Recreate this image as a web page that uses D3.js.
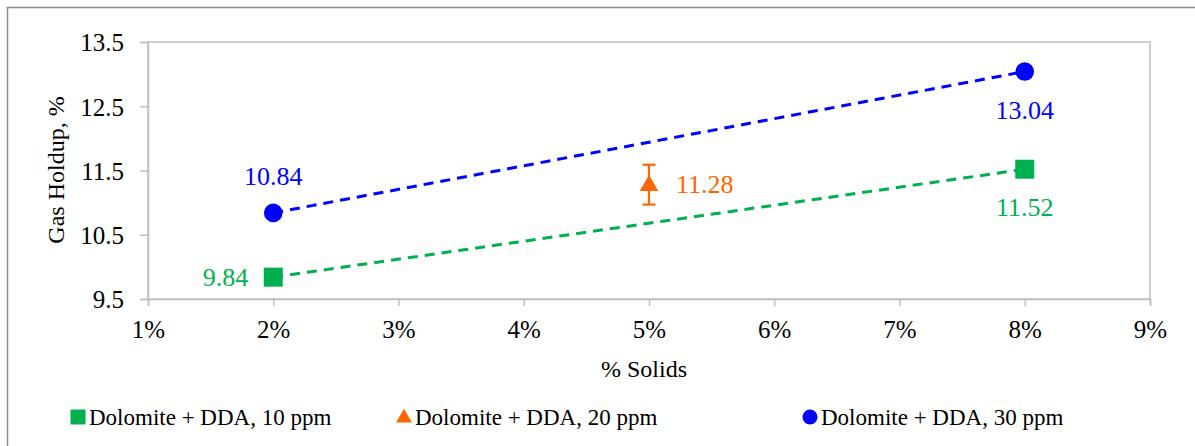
<!DOCTYPE html>
<html><head><meta charset="utf-8">
<script src="https://cdn.jsdelivr.net/npm/d3@7"></script>
<style>
body{margin:0;background:#fff;}
text{font-family:"Liberation Serif","Times New Roman",serif;}
</style></head>
<body><svg id="c" width="1195" height="446"></svg>
<script>
const xTicks = [0.01,0.02,0.03,0.04,0.05,0.06,0.07,0.08,0.09];
const yTicks = [9.5,10.5,11.5,12.5,13.5];
const solids10 = [0.02,0.08];
const holdup10 = [9.84,11.52];
const solids20 = [0.05];
const holdup20 = [11.28];
const err20 = [0.31];
const solids30 = [0.02,0.08];
const holdup30 = [10.84,13.04];
const seriesNames = ["Dolomite + DDA, 10 ppm","Dolomite + DDA, 20 ppm","Dolomite + DDA, 30 ppm"];
const colors = ["#00B050","#FF6600","#0000FF"];

const svg = d3.select("#c");
const L=148,R=1150,T=42,B=299;
const x = d3.scaleLinear().domain([0.01,0.09]).range([L,R]);
const y = d3.scaleLinear().domain([9.5,13.5]).range([B,T]);

// outer frame
svg.append("path").attr("d","M7.5,446 L7.5,7.5 L1195,7.5").attr("fill","none").attr("stroke","#8c8c8c").attr("stroke-width",1.5);
// plot border
svg.append("rect").attr("x",L).attr("y",T).attr("width",R-L).attr("height",B-T)
  .attr("fill","none").attr("stroke","#c0c0c0").attr("stroke-width",1.5);

const fmtP = d3.format(".0%");
const xa = svg.append("g").attr("transform",`translate(0,${B})`)
  .call(d3.axisBottom(x).tickValues(xTicks).tickFormat(fmtP).tickSize(7).tickPadding(14));
const ya = svg.append("g").attr("transform",`translate(${L},0)`)
  .call(d3.axisLeft(y).tickValues(yTicks).tickFormat(d3.format(".1f")).tickSize(8).tickPadding(16));
[xa,ya].forEach(a=>{
  a.select(".domain").attr("stroke","#c0c0c0").attr("stroke-width",1.5);
  a.selectAll(".tick line").attr("stroke","#c0c0c0").attr("stroke-width",1.5);
  a.selectAll(".tick text").attr("font-size",25).attr("fill","#000")
   .attr("font-family","Liberation Serif, Times New Roman, serif");
});
ya.selectAll(".tick text").attr("dy","0.35em");
xa.selectAll(".tick text").attr("dy","0.71em");

// axis titles
svg.append("text").attr("x",644).attr("y",377).attr("text-anchor","middle").attr("font-size",24).text("% Solids");
svg.append("text").attr("transform","translate(64,170) rotate(-90)").attr("text-anchor","middle").attr("font-size",24).text("Gas Holdup, %");

// lines
const line = d3.line().x(d=>x(d[0])).y(d=>y(d[1]));
svg.append("path").datum(d3.zip(solids10,holdup10)).attr("d",line).attr("fill","none")
  .attr("stroke",colors[0]).attr("stroke-width",3).attr("stroke-dasharray","10,7");
svg.append("path").datum(d3.zip(solids30,holdup30)).attr("d",line).attr("fill","none")
  .attr("stroke",colors[2]).attr("stroke-width",3).attr("stroke-dasharray","10,7");

// error bars
solids20.forEach((s,i)=>{
  const cx=x(s), y1=y(holdup20[i]-err20[i]), y2=y(holdup20[i]+err20[i]);
  const g=svg.append("g").attr("stroke",colors[1]).attr("stroke-width",2.2);
  g.append("line").attr("x1",cx).attr("x2",cx).attr("y1",y1).attr("y2",y2);
  g.append("line").attr("x1",cx-6.5).attr("x2",cx+6.5).attr("y1",y1).attr("y2",y1);
  g.append("line").attr("x1",cx-6.5).attr("x2",cx+6.5).attr("y1",y2).attr("y2",y2);
});

// markers
const sq = d3.symbol().type(d3.symbolSquare).size(19*19);
const tri = d3.symbol().type(d3.symbolTriangle).size(150);
const circ = d3.symbol().type(d3.symbolCircle).size(Math.PI*9.3*9.3);
svg.selectAll(".m10").data(d3.zip(solids10,holdup10)).enter().append("path")
  .attr("d",sq).attr("transform",d=>`translate(${x(d[0])},${y(d[1])})`).attr("fill",colors[0]);
svg.selectAll(".m20").data(d3.zip(solids20,holdup20)).enter().append("path")
  .attr("d",tri).attr("transform",d=>`translate(${x(d[0])},${y(d[1])+1})`).attr("fill",colors[1]);
svg.selectAll(".m30").data(d3.zip(solids30,holdup30)).enter().append("path")
  .attr("d",circ).attr("transform",d=>`translate(${x(d[0])},${y(d[1])})`).attr("fill",colors[2]);

// data labels
const fmt2 = d3.format(".2f");
function lab(xv,yv,dx,dy,anchor,col){
  svg.append("text").attr("x",x(xv)+dx).attr("y",y(yv)+dy).attr("text-anchor",anchor)
    .attr("font-size",26).attr("fill",col).text(fmt2(yv));
}
lab(solids30[0],holdup30[0],0,-28,"middle",colors[2]);
lab(solids30[1],holdup30[1],0,47,"middle",colors[2]);
lab(solids10[0],holdup10[0],-25,9,"end",colors[0]);
lab(solids10[1],holdup10[1],0,47,"middle",colors[0]);
lab(solids20[0],holdup20[0],27,8,"start",colors[1]);

// legend
const legX=[78,404,810];
const legSyms=[d3.symbol().type(d3.symbolSquare).size(15*15),d3.symbol().type(d3.symbolTriangle).size(110),d3.symbol().type(d3.symbolCircle).size(Math.PI*7.5*7.5)];
seriesNames.forEach((n,i)=>{
  svg.append("path").attr("d",legSyms[i]).attr("transform",`translate(${legX[i]},${i==1?418:417})`).attr("fill",colors[i]);
  svg.append("text").attr("x",legX[i]+11).attr("y",425).attr("font-size",23).attr("fill","#000").text(n);
});
</script></body></html>
